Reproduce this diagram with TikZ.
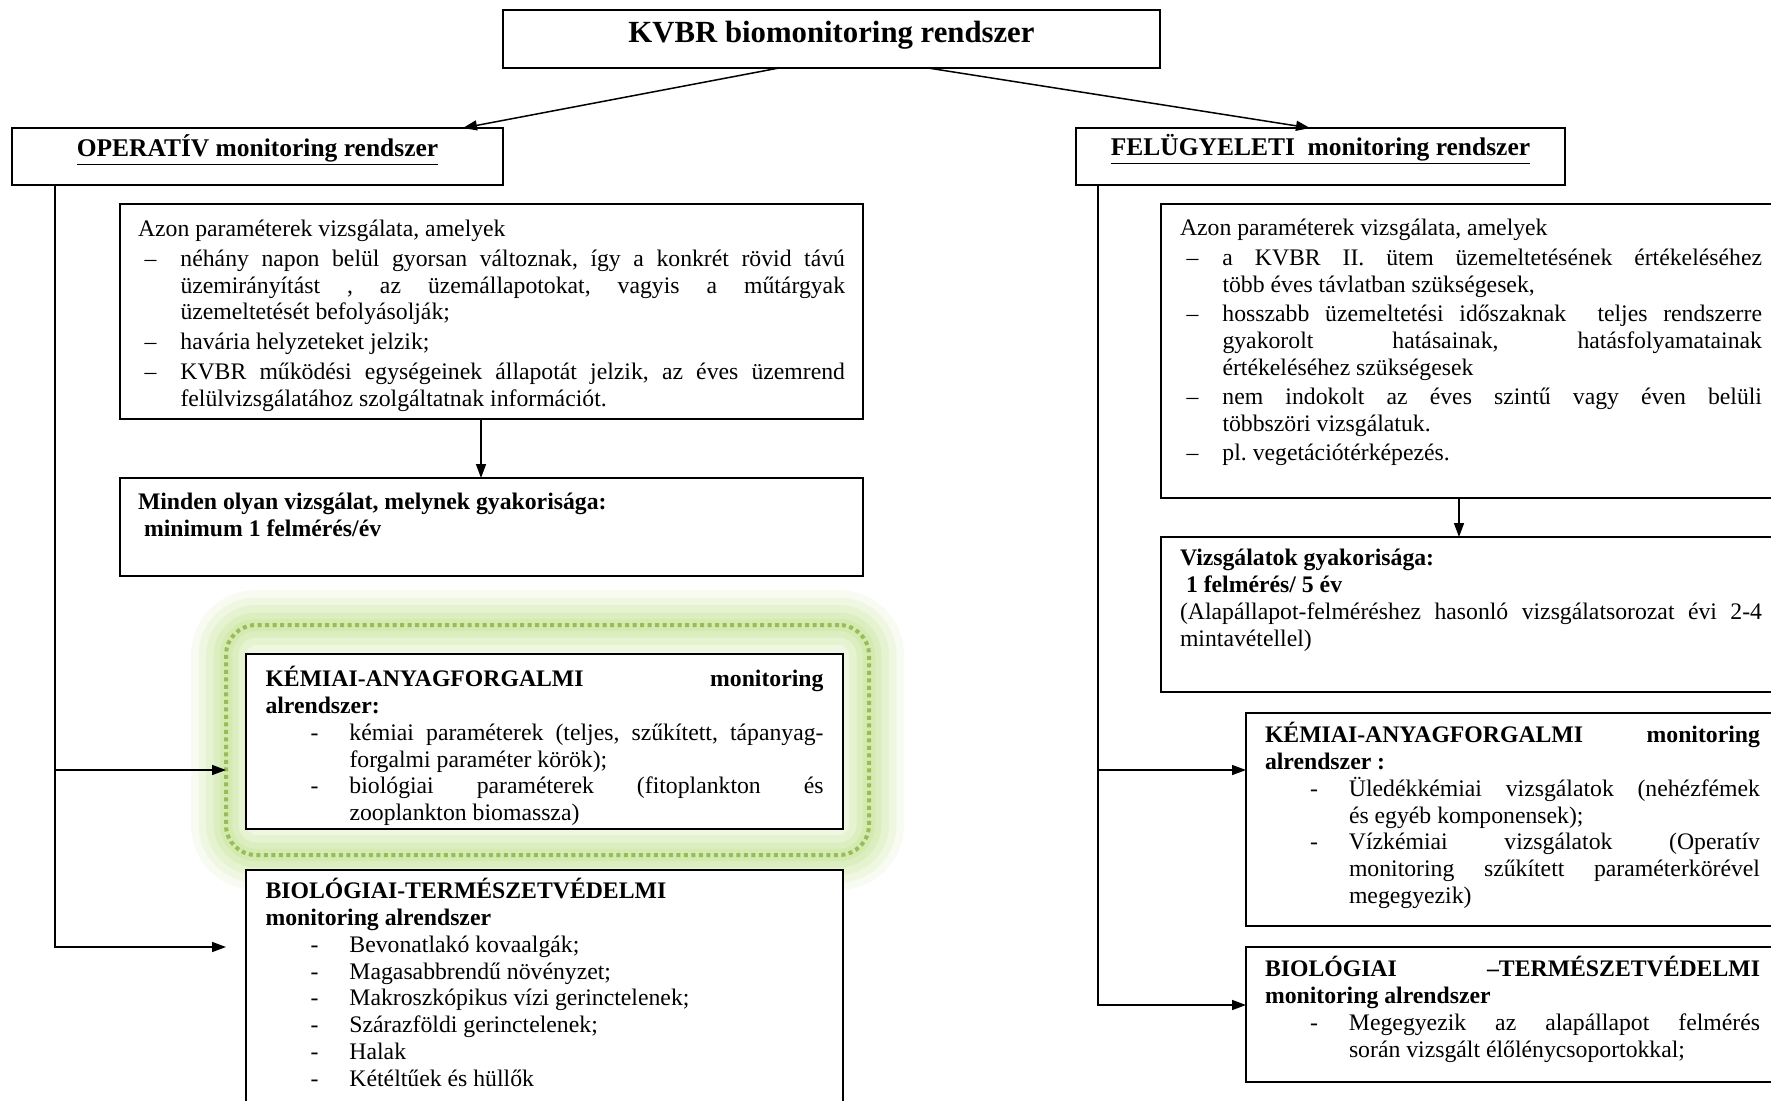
\documentclass[tikz,border=0pt]{standalone}
\usepackage{fontspec}
\setmainfont{Liberation Serif}
\usetikzlibrary{positioning, arrows.meta}
\definecolor{GlowGreen}{HTML}{9BBB59}
\definecolor{GlowLight}{HTML}{BFE08C}
\frenchspacing
% fixed size text box: width, height, top padding, content
\newcommand{\panel}[4]{\parbox[t][#2][t]{#1}{\vspace*{#3}#4}}
\newcommand{\dashitem}[1]{\par\hangindent=8.5mm\hangafter=1\noindent\makebox[8.5mm][l]{\hspace{1.3mm}--}#1}
\newcommand{\hyitem}[1]{\par\hangindent=16.8mm\hangafter=1\noindent\makebox[16.8mm][l]{\hspace{9mm}-}#1}

\begin{document}
\begin{tikzpicture}[x=0.2mm, y=-0.2mm, font=\fontsize{13.5pt}{15.3pt}\selectfont,
    box/.style={draw, line width=0.3mm, fill=white, anchor=north west, inner ysep=0pt, outer sep=0pt},
    glowbox/.style={draw=GlowGreen, line width=0.8mm, dash pattern=on 0.8mm off 0.7mm, rounded corners=6mm,
        anchor=north west, inner sep=0pt, outer sep=0pt,
        preaction={draw=GlowLight, solid, line width=14mm, draw opacity=.12},
        preaction={draw=GlowLight, solid, line width=11mm, draw opacity=.15},
        preaction={draw=GlowLight, solid, line width=8mm, draw opacity=.2},
        preaction={draw=GlowLight, solid, line width=5mm, draw opacity=.25},
        preaction={draw=GlowLight, solid, line width=2.5mm, draw opacity=.3}},
    arr/.style={-{Triangle[length=2.8mm, width=2mm]}, line width=0.3mm}]
\useasboundingbox (0,0) rectangle (1771,1101);
\clip (0,0) rectangle (1771,1101);

% main levels
\node[box, inner xsep=0pt] (top) at (503,10)
    {\panel{131.4mm}{11.6mm}{1.6mm}{\centering\fontsize{17.5pt}{20pt}\selectfont\strut\textbf{KVBR biomonitoring rendszer}}};
\node[box, inner xsep=0pt] (oper) at (12,128)
    {\panel{98.2mm}{11.4mm}{1.3mm}{\centering\fontsize{14.5pt}{17pt}\selectfont\strut\textbf{\underline{OPERATÍV monitoring rendszer}}}};
\node[box, inner xsep=0pt] (fel) at (1076,128)
    {\panel{97.8mm}{11.4mm}{1.3mm}{\centering\fontsize{14.5pt}{17pt}\selectfont\strut\textbf{\underline{FELÜGYELETI\ \ monitoring rendszer}}}};

% operativ branch
\node[box, inner xsep=3.6mm] (opdesc) at (120,204)
    {\panel{141.4mm}{43mm}{2.1mm}{\setlength{\parskip}{0.6mm}\strut Azon paraméterek vizsgálata, amelyek
    \dashitem{néhány napon belül gyorsan változnak, így a konkrét rövid távú\linebreak üzemirányítást , az üzemállapotokat, vagyis a műtárgyak\linebreak üzemeltetését befolyásolják;}
    \dashitem{havária helyzeteket jelzik;}
    \dashitem{KVBR működési egységeinek állapotát jelzik, az éves üzemrend\linebreak felülvizsgálatához szolgáltatnak információt.}}};
\node[box, inner xsep=3.6mm] (opfreq) at (120,478)
    {\panel{141.4mm}{19.6mm}{2.5mm}{\strut\textbf{Minden olyan vizsgálat, melynek gyakorisága:}\\
    \hspace*{1.2mm}\textbf{minimum 1 felmérés/év}}};
\node[glowbox, minimum width=128.6mm, minimum height=46mm] (glow) at (226,625) {};
\node[box, inner xsep=3.9mm] (opchem) at (246,654)
    {\panel{111.6mm}{35mm}{2.4mm}{\strut\textbf{KÉMIAI-ANYAGFORGALMI monitoring\linebreak alrendszer:}
    \hyitem{kémiai paraméterek (teljes, szűkített, tápanyag-\linebreak forgalmi paraméter körök);}
    \hyitem{biológiai paraméterek (fitoplankton és\linebreak zooplankton biomassza)}}};
\node[box, inner xsep=3.9mm] (opbio) at (246,870)
    {\panel{111.6mm}{50mm}{1.6mm}{\strut\textbf{BIOLÓGIAI-TERMÉSZETVÉDELMI\\ monitoring alrendszer}
    \hyitem{Bevonatlakó kovaalgák;}
    \hyitem{Magasabbrendű növényzet;}
    \hyitem{Makroszkópikus vízi gerinctelenek;}
    \hyitem{Szárazföldi gerinctelenek;}
    \hyitem{Halak}
    \hyitem{Kétéltűek és hüllők}}};

% felugyeleti branch
\node[box, inner xsep=3.8mm] (fdesc) at (1161,204)
    {\panel{116.4mm}{58.8mm}{2.1mm}{\setlength{\parskip}{0.5mm}\strut Azon paraméterek vizsgálata, amelyek
    \dashitem{a KVBR II. ütem üzemeltetésének értékeléséhez\linebreak több éves távlatban szükségesek,}
    \dashitem{hosszabb üzemeltetési időszaknak\ \ teljes rendszerre\linebreak gyakorolt hatásainak, hatásfolyamatainak\linebreak értékeléséhez szükségesek}
    \dashitem{nem indokolt az éves szintű vagy éven belüli\linebreak többszöri vizsgálatuk.}
    \dashitem{pl. vegetációtérképezés.}}};
\node[box, inner xsep=3.8mm] (ffreq) at (1161,537)
    {\panel{116.4mm}{31mm}{2.0mm}{\strut\textbf{Vizsgálatok gyakorisága:}\\
    \hspace*{1.2mm}\textbf{1 felmérés/ 5 év}\\
    (Alapállapot-felméréshez hasonló vizsgálatsorozat évi 2-4\linebreak mintavétellel)}};
\node[box, inner xsep=3.8mm] (fchem) at (1246,713)
    {\panel{99mm}{42.6mm}{1.8mm}{\strut\textbf{KÉMIAI-ANYAGFORGALMI monitoring\linebreak alrendszer :}
    \hyitem{Üledékkémiai vizsgálatok (nehézfémek\linebreak és egyéb komponensek);}
    \hyitem{Vízkémiai vizsgálatok (Operatív\linebreak monitoring szűkített paraméterkörével\linebreak megegyezik)}}};
\node[box, inner xsep=3.8mm] (fbio) at (1246,947)
    {\panel{99mm}{27mm}{1.8mm}{\strut\textbf{BIOLÓGIAI –TERMÉSZETVÉDELMI\linebreak monitoring alrendszer}
    \hyitem{Megegyezik az alapállapot felmérés\linebreak során vizsgált élőlénycsoportokkal;}}};

% connectors
\draw[arr] ([xshift=-10.5mm]top.south) -- ([xshift=41.1mm]oper.north);
\draw[arr] ([xshift=19.3mm]top.south) -- ([xshift=-2.1mm]fel.north);
\draw[arr] ([xshift=-2.1mm]opdesc.south) -- ([xshift=-2.1mm]opfreq.north);
\draw[arr] ([xshift=59.6mm]fdesc.south west) -- ([xshift=59.6mm]ffreq.north west);

\coordinate (lfork) at ([xshift=8.6mm]oper.south west);
\coordinate (lbio) at ([yshift=-15.4mm]opbio.north west);
\draw[arr] (lfork) |- ([yshift=-6mm]glow.west);
\draw[arr] (lfork) |- (lbio -| glow.west);

\coordinate (rfork) at ([xshift=4.4mm]fel.south west);
\draw[arr] (rfork) |- ([yshift=-11.4mm]fchem.north west);
\draw[arr] (rfork) |- ([yshift=-11.6mm]fbio.north west);
\end{tikzpicture}
\end{document}
